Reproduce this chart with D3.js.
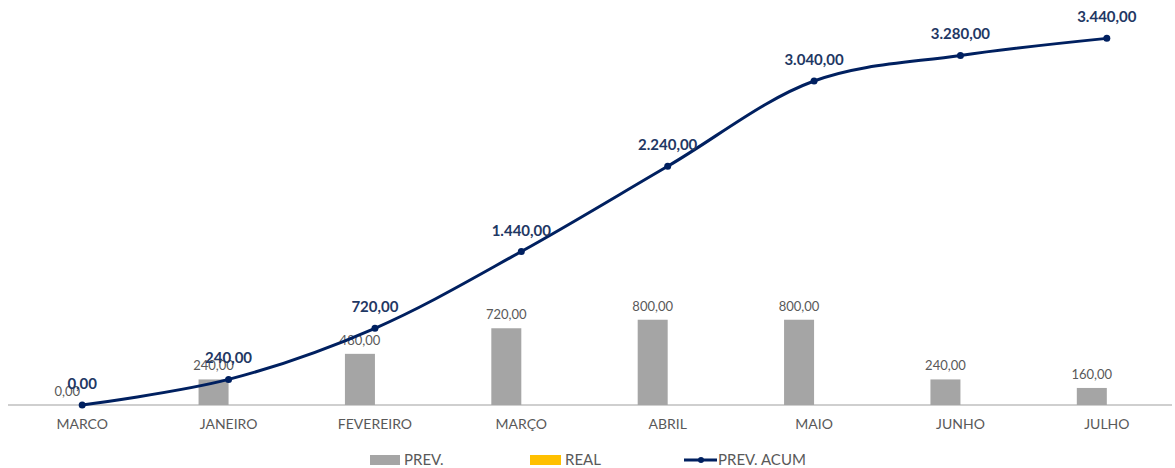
<!DOCTYPE html>
<html><head><meta charset="utf-8">
<script src="https://cdn.jsdelivr.net/npm/d3@7"></script>
<style>body{margin:0;background:#fff}svg{display:block}</style>
</head><body><svg id="c" width="1175" height="468"></svg>
<script>
const categories = ["MARCO","JANEIRO","FEVEREIRO","MARÇO","ABRIL","MAIO","JUNHO","JULHO"];
const prev = [0,240,480,720,800,800,240,160];
const real = [0,0,0,0,0,0,0,0];
const prevAcum = [0,240,720,1440,2240,3040,3280,3440];
const seriesNames = ["PREV.","REAL","PREV. ACUM"];

const fmt = v => { const s = d3.format(",.2f")(v); return s.replace(/,/g,"#").replace(/\./g,",").replace(/#/g,"."); };
const font = "Lato, 'Open Sans', sans-serif";
const svg = d3.select("#c");
const x = d3.scaleBand().domain(categories).range([9,1180]).paddingInner(0).paddingOuter(0);
const y = d3.scaleLinear().domain([0,3800]).range([405,0]);
const bw = 30;
const cx = c => x(c) + x.bandwidth()/2;

// axis
const ax = svg.append("g").attr("transform","translate(0,405)").call(d3.axisBottom(x).tickSize(0).tickPadding(14));
ax.select(".domain").attr("stroke","#BFBFBF").attr("stroke-width",1.5).attr("d","M8,0H1172");
ax.selectAll("text").attr("fill","#595959").style("font-family",font).style("font-size","14px");

// bars
svg.append("g").selectAll("rect").data(categories).join("rect")
  .attr("x",(c)=>cx(c)-bw).attr("width",bw)
  .attr("y",(c,i)=>y(prev[i])).attr("height",(c,i)=>y(0)-y(prev[i]))
  .attr("fill","#A5A5A5");
svg.append("g").selectAll("rect").data(categories).join("rect")
  .attr("x",(c)=>cx(c)).attr("width",bw)
  .attr("y",(c,i)=>y(real[i])).attr("height",(c,i)=>y(0)-y(real[i]))
  .attr("fill","#FFC000");
svg.append("g").selectAll("text").data(categories).join("text")
  .attr("x",c=>cx(c)-bw/2).attr("y",(c,i)=>y(prev[i])-9)
  .attr("text-anchor","middle").attr("fill","#595959")
  .style("font-family",font).style("font-size","13px")
  .text((c,i)=>fmt(prev[i]));

// line
const line = d3.line().x((d,i)=>cx(categories[i])).y(d=>y(d)).curve(d3.curveCatmullRom.alpha(0.5));
svg.append("path").attr("d",line(prevAcum)).attr("fill","none").attr("stroke","#002060").attr("stroke-width",3);
svg.append("g").selectAll("circle").data(prevAcum).join("circle")
  .attr("cx",(d,i)=>cx(categories[i])).attr("cy",d=>y(d)).attr("r",3.5).attr("fill","#002060");
svg.append("g").selectAll("text").data(prevAcum).join("text")
  .attr("x",(d,i)=>cx(categories[i])).attr("y",d=>y(d)-16)
  .attr("text-anchor","middle").attr("fill","#1F3864").attr("font-weight","bold")
  .style("font-family",font).style("font-size","15px")
  .text(d=>fmt(d));

// legend
const lg = svg.append("g").style("font-family",font).style("font-size","15px").attr("fill","#595959");
lg.append("rect").attr("x",370).attr("y",455).attr("width",30).attr("height",10).attr("fill","#A5A5A5");
lg.append("text").attr("x",404).attr("y",465).text(seriesNames[0]);
lg.append("rect").attr("x",530).attr("y",455).attr("width",31).attr("height",10).attr("fill","#FFC000");
lg.append("text").attr("x",565).attr("y",465).text(seriesNames[1]);
lg.append("line").attr("x1",684).attr("x2",717).attr("y1",460).attr("y2",460).attr("stroke","#002060").attr("stroke-width",3);
lg.append("circle").attr("cx",701).attr("cy",460).attr("r",3).attr("fill","#002060");
lg.append("text").attr("x",718).attr("y",465).text(seriesNames[2]);
</script></body></html>
